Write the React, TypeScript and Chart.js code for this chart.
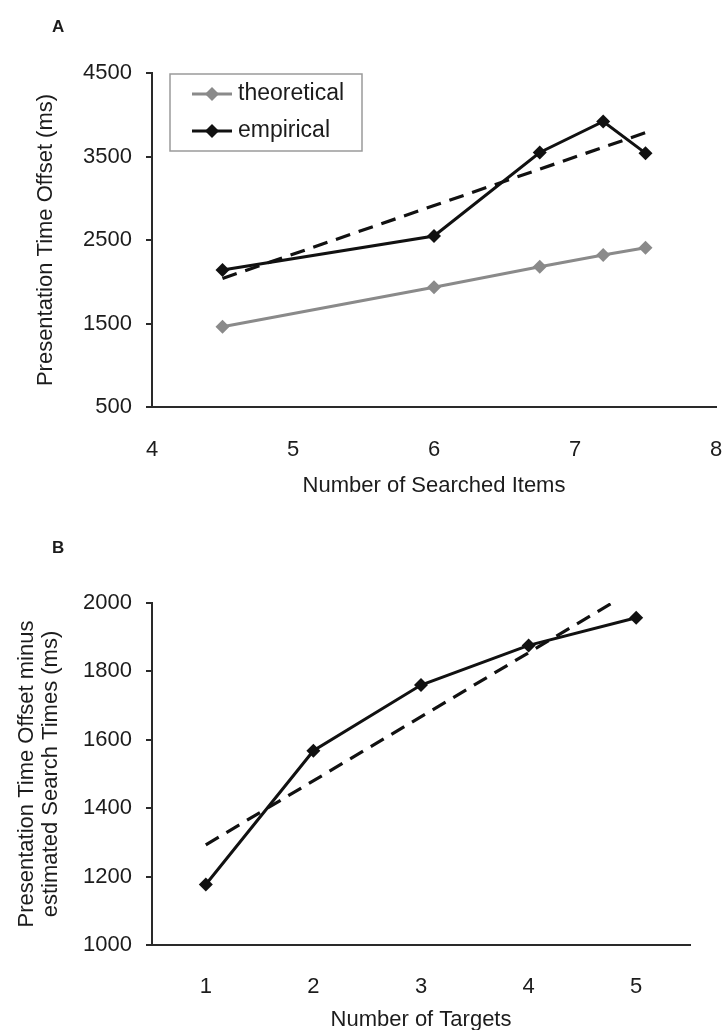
import React, { useEffect, useRef } from 'react';
import { Chart, registerables } from 'chart.js';

Chart.register(...registerables);

// ---------- Panel A data ----------
const searchedItems = [4.5, 6, 6.75, 7.2, 7.5];
const theoretical = [1460, 1933, 2180, 2320, 2408];
const empirical = [2140, 2548, 3548, 3920, 3540];
const trendAX = [4.5, 7.5];
const trendAY = [2039, 3785];
const xTicksA = [4, 5, 6, 7, 8];
const yTicksA = [500, 1500, 2500, 3500, 4500];

// ---------- Panel B data ----------
const targets = ['1', '2', '3', '4', '5'];
const offsetMinusSearch = [1177, 1568, 1760, 1876, 1957];
const trendBX = ['1', '5'];
const trendBY = [1293, 2042];
const yTicksB = [1000, 1200, 1400, 1600, 1800, 2000];

const FONT = "'Liberation Sans', Arial, Helvetica, sans-serif";
const TEXT = '#1c1c1c';
const AXIS = '#2a2a2a';
const GRAY = '#8a8a8a';
const BLACK = '#111111';

const plain = (v: any) => String(v);

const diamond = (ctx: CanvasRenderingContext2D, x: number, y: number, r: number, color: string) => {
  ctx.beginPath();
  ctx.moveTo(x, y - r);
  ctx.lineTo(x + r, y);
  ctx.lineTo(x, y + r);
  ctx.lineTo(x - r, y);
  ctx.closePath();
  ctx.fillStyle = color;
  ctx.fill();
};

const boxLegend = {
  id: 'boxLegend',
  afterDraw(chart: any) {
    const { ctx, chartArea } = chart;
    const left = chartArea.left + 18;
    const top = chartArea.top + 1;
    const w = 192;
    const h = 77;
    ctx.save();
    ctx.fillStyle = '#ffffff';
    ctx.fillRect(left, top, w, h);
    ctx.strokeStyle = '#9a9a9a';
    ctx.lineWidth = 1.5;
    ctx.strokeRect(left, top, w, h);
    const items = chart.data.datasets.slice(0, 2);
    items.forEach((ds: any, i: number) => {
      const y = top + 20 + i * 37;
      ctx.strokeStyle = ds.borderColor;
      ctx.lineWidth = ds.borderWidth;
      ctx.beginPath();
      ctx.moveTo(left + 22, y);
      ctx.lineTo(left + 62, y);
      ctx.stroke();
      diamond(ctx, left + 42, y, 7, ds.borderColor);
      ctx.fillStyle = TEXT;
      ctx.font = `23px ${FONT}`;
      ctx.textBaseline = 'middle';
      ctx.textAlign = 'left';
      ctx.fillText(ds.label, left + 68, y);
    });
    ctx.restore();
  },
};

function PanelA() {
  const ref = useRef<HTMLCanvasElement | null>(null);
  useEffect(() => {
    if (!ref.current) return;
    const chart = new Chart(ref.current, {
      type: 'line',
      data: {
        datasets: [
          {
            label: 'theoretical',
            data: searchedItems.map((x, i) => ({ x, y: theoretical[i] })),
            borderColor: GRAY,
            backgroundColor: GRAY,
            borderWidth: 3,
            pointStyle: 'rectRot',
            pointRadius: 7,
            pointBorderWidth: 0,
            tension: 0,
          },
          {
            label: 'empirical',
            data: searchedItems.map((x, i) => ({ x, y: empirical[i] })),
            borderColor: BLACK,
            backgroundColor: BLACK,
            borderWidth: 3,
            pointStyle: 'rectRot',
            pointRadius: 7,
            pointBorderWidth: 0,
            tension: 0,
          },
          {
            label: 'trend',
            data: trendAX.map((x, i) => ({ x, y: trendAY[i] })),
            borderColor: BLACK,
            borderWidth: 3.2,
            borderDash: [15, 9],
            pointRadius: 0,
            tension: 0,
          },
        ],
      },
      options: {
        responsive: false,
        animation: false,
        layout: { padding: { left: 0, top: 73, right: 6, bottom: 0 } },
        plugins: { legend: { display: false }, tooltip: { enabled: false } },
        scales: {
          x: {
            type: 'linear',
            min: 4,
            max: 8,
            afterBuildTicks: (s: any) => {
              s.ticks = xTicksA.map((v) => ({ value: v }));
            },
            afterFit: (s: any) => {
              s.height = 103;
              s.paddingLeft = 0;
              s.paddingRight = 0;
            },
            grid: { display: false },
            border: { display: true, color: AXIS, width: 2 },
            ticks: { color: TEXT, font: { family: FONT, size: 22 }, padding: 22, maxRotation: 0, callback: plain },
            title: {
              display: true,
              text: 'Number of Searched Items',
              color: TEXT,
              font: { family: FONT, size: 22 },
              padding: { top: 0, bottom: 11 },
            },
          },
          y: {
            min: 500,
            max: 4500,
            afterBuildTicks: (s: any) => {
              s.ticks = yTicksA.map((v) => ({ value: v }));
            },
            afterFit: (s: any) => {
              s.width = 152;
            },
            grid: { display: true, drawOnChartArea: false, drawTicks: true, tickLength: 6, color: AXIS, lineWidth: 2 },
            border: { display: true, color: AXIS, width: 2 },
            ticks: { color: TEXT, font: { family: FONT, size: 22 }, padding: 14, callback: plain },
            title: {
              display: true,
              text: 'Presentation Time Offset (ms)',
              color: TEXT,
              font: { family: FONT, size: 22 },
              padding: { top: 33, bottom: 0 },
            },
          },
        },
      },
      plugins: [boxLegend],
    } as any);
    return () => chart.destroy();
  }, []);
  return (
    <canvas
      ref={ref}
      width={723}
      height={510}
      style={{ position: 'absolute', left: 0, top: 0, width: 723, height: 510 }}
    />
  );
}

function PanelB() {
  const ref = useRef<HTMLCanvasElement | null>(null);
  useEffect(() => {
    if (!ref.current) return;
    const chart = new Chart(ref.current, {
      type: 'line',
      data: {
        labels: targets,
        datasets: [
          {
            label: 'offset minus search',
            data: offsetMinusSearch,
            borderColor: BLACK,
            backgroundColor: BLACK,
            borderWidth: 3,
            pointStyle: 'rectRot',
            pointRadius: 7,
            pointBorderWidth: 0,
            tension: 0,
          },
          {
            label: 'trend',
            data: trendBX.map((x, i) => ({ x, y: trendBY[i] })),
            borderColor: BLACK,
            borderWidth: 3.2,
            borderDash: [15, 9],
            pointRadius: 0,
            tension: 0,
          },
        ],
      },
      options: {
        responsive: false,
        animation: false,
        layout: { padding: { left: 0, top: 83, right: 33, bottom: 0 } },
        plugins: { legend: { display: false }, tooltip: { enabled: false } },
        scales: {
          x: {
            type: 'category',
            offset: true,
            afterFit: (s: any) => {
              s.height = 91;
            },
            grid: { display: false },
            border: { display: true, color: AXIS, width: 2 },
            ticks: { color: TEXT, font: { family: FONT, size: 22 }, padding: 21, maxRotation: 0 },
            title: {
              display: true,
              text: 'Number of Targets',
              color: TEXT,
              font: { family: FONT, size: 22 },
              padding: { top: 0, bottom: 3 },
            },
          },
          y: {
            min: 1000,
            max: 2000,
            afterBuildTicks: (s: any) => {
              s.ticks = yTicksB.map((v) => ({ value: v }));
            },
            afterFit: (s: any) => {
              s.width = 152;
            },
            grid: { display: true, drawOnChartArea: false, drawTicks: true, tickLength: 6, color: AXIS, lineWidth: 2 },
            border: { display: true, color: AXIS, width: 2 },
            ticks: { color: TEXT, font: { family: FONT, size: 22 }, padding: 14, callback: plain },
            title: {
              display: true,
              text: ['Presentation Time Offset minus', 'estimated Search Times (ms)'],
              color: TEXT,
              font: { family: FONT, size: 22, lineHeight: 1.1 },
              padding: { top: 15, bottom: 0 },
            },
          },
        },
      },
    } as any);
    return () => chart.destroy();
  }, []);
  return (
    <canvas
      ref={ref}
      width={723}
      height={516}
      style={{ position: 'absolute', left: 0, top: 520, width: 723, height: 516 }}
    />
  );
}

const panelLabel = (top: number): React.CSSProperties => ({
  position: 'absolute',
  left: 52,
  top,
  fontFamily: FONT,
  fontWeight: 'bold',
  fontSize: 17,
  color: TEXT,
  lineHeight: 1,
});

export default function App() {
  return (
    <div style={{ position: 'absolute', left: 0, top: 0, width: 723, height: 1030, background: '#fff', overflow: 'hidden' }}>
      <PanelA />
      <PanelB />
      <div style={panelLabel(18)}>A</div>
      <div style={panelLabel(539)}>B</div>
    </div>
  );
}
